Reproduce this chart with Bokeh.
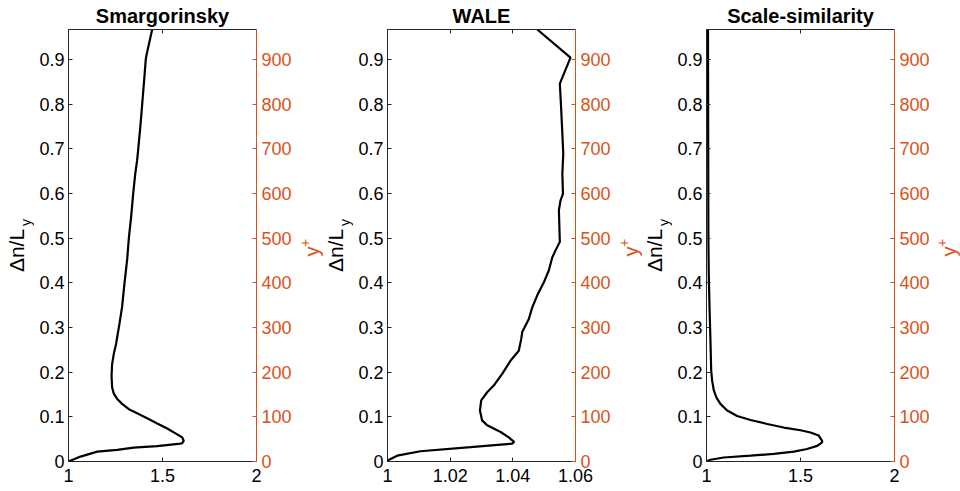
import numpy as np
from bokeh.plotting import figure
from bokeh.models import Range1d, LinearAxis, FixedTicker, Label
from bokeh.layouts import row
from bokeh.embed import file_html
from bokeh.resources import INLINE

titles = ["Smargorinsky", "WALE", "Scale-similarity"]

# Smagorinsky profile: x value vs wall distance dn/Ly
smag_x = [1.0, 1.064, 1.153, 1.259, 1.347, 1.471, 1.596, 1.605, 1.613, 1.605, 1.569, 1.525,
          1.472, 1.418, 1.365, 1.321, 1.285, 1.259, 1.241, 1.232, 1.229, 1.232, 1.241,
          1.253, 1.262, 1.271, 1.285, 1.298, 1.312, 1.321, 1.333, 1.344, 1.355, 1.365,
          1.371, 1.382, 1.392, 1.401, 1.411, 1.415, 1.445]
smag_y = [0.0, 0.011, 0.022, 0.026, 0.031, 0.0345, 0.040, 0.041, 0.046, 0.054, 0.063, 0.074,
          0.085, 0.097, 0.108, 0.117, 0.129, 0.140, 0.152, 0.166, 0.192, 0.218, 0.241,
          0.263, 0.286, 0.308, 0.346, 0.400, 0.452, 0.500, 0.547, 0.599, 0.644, 0.674,
          0.700, 0.749, 0.800, 0.846, 0.900, 0.910, 0.967]

# WALE profile
wale_x = [1.0, 1.0031, 1.0105, 1.0265, 1.0398, 1.0404, 1.0387, 1.0361, 1.0318, 1.0302, 1.0295,
          1.0299, 1.0318, 1.0339, 1.0366, 1.0393, 1.0419, 1.0427, 1.0430, 1.0451, 1.0462,
          1.0478, 1.0499, 1.0515, 1.0526, 1.0536, 1.0550, 1.0547, 1.0552, 1.0560, 1.0558,
          1.0561, 1.0558, 1.0554, 1.0550, 1.0584, 1.0478]
wale_y = [0.002, 0.013, 0.023, 0.032, 0.040, 0.044, 0.054, 0.066, 0.081, 0.092, 0.114,
          0.137, 0.155, 0.170, 0.196, 0.226, 0.248, 0.275, 0.290, 0.319, 0.345,
          0.372, 0.401, 0.428, 0.457, 0.472, 0.492, 0.562, 0.584, 0.599, 0.644,
          0.689, 0.734, 0.793, 0.846, 0.904, 0.967]

# Scale-similarity profile
ss_x = [1.0, 1.021, 1.092, 1.234, 1.358, 1.465, 1.535, 1.589, 1.615, 1.615, 1.597, 1.553,
        1.500, 1.411, 1.323, 1.234, 1.163, 1.110, 1.074, 1.053, 1.039, 1.030, 1.025,
        1.021, 1.016, 1.012, 1.010, 1.009, 1.008]
ss_y = [0.0, 0.004, 0.009, 0.013, 0.017, 0.022, 0.028, 0.035, 0.043, 0.046, 0.058, 0.065,
        0.070, 0.076, 0.084, 0.093, 0.102, 0.114, 0.129, 0.143, 0.159, 0.181, 0.203,
        0.271, 0.346, 0.420, 0.500, 0.700, 0.967]

series_x = [smag_x, wale_x, ss_x]
series_y = [smag_y, wale_y, ss_y]

x_ranges = [(1, 2), (1, 1.06), (1, 2)]
x_ticks = [[1, 1.5, 2], [1, 1.02, 1.04, 1.06], [1, 1.5, 2]]
x_tick_labels = [["1", "1.5", "2"], ["1", "1.02", "1.04", "1.06"], ["1", "1.5", "2"]]
y_ticks = [0, 0.1, 0.2, 0.3, 0.4, 0.5, 0.6, 0.7, 0.8, 0.9]
y_tick_labels = ["0", "0.1", "0.2", "0.3", "0.4", "0.5", "0.6", "0.7", "0.8", "0.9"]
yplus_ticks = [0, 100, 200, 300, 400, 500, 600, 700, 800, 900]
y_max = 0.967
yplus_max = 967

FONT = "Liberation Sans"
AX = "#262626"
ORANGE = "#D95319"
H = 491
TOP, BOTTOM = 29, 30          # page rows above / below the plotting frames
FRAME_H = H - TOP - BOTTOM


def style_axis(ax, color, tick_font="18px"):
    ax.axis_line_color = color
    ax.major_tick_line_color = color
    ax.major_tick_in = 4
    ax.major_tick_out = 0
    ax.minor_tick_line_color = None
    ax.major_label_text_color = color
    ax.major_label_text_font = FONT
    ax.major_label_text_font_size = tick_font


def make_panel(i):
    p = figure(frame_width=188, frame_height=FRAME_H,
               x_range=Range1d(*x_ranges[i]), y_range=Range1d(0, y_max),
               output_backend="svg", toolbar_location=None,
               x_axis_location=None, y_axis_location=None,
               min_border_left=34, min_border_right=40,
               min_border_top=TOP, min_border_bottom=BOTTOM)
    p.extra_y_ranges = {"yplus": Range1d(0, yplus_max)}
    p.grid.visible = False
    p.outline_line_color = None
    p.border_fill_color = "white"

    p.title.text = titles[i]
    p.title.align = "center"
    p.title.text_font = FONT
    p.title.text_font_size = "20px"
    p.title.text_font_style = "bold"
    p.title.text_color = "#000000"
    p.title.standoff = 5

    xb = LinearAxis(ticker=FixedTicker(ticks=x_ticks[i]))
    xb.major_label_overrides = dict(zip(x_ticks[i], x_tick_labels[i]))
    style_axis(xb, AX)
    xb.major_label_text_color = "#000000"
    xb.major_label_standoff = 7
    p.add_layout(xb, "below")

    xt = LinearAxis(ticker=FixedTicker(ticks=x_ticks[i]))
    style_axis(xt, AX, tick_font="1px")
    xt.major_label_text_color = None
    xt.major_label_standoff = 0
    p.add_layout(xt, "above")

    yl = LinearAxis(ticker=FixedTicker(ticks=y_ticks))
    yl.major_label_overrides = dict(zip(y_ticks, y_tick_labels))
    style_axis(yl, AX)
    yl.major_label_text_color = "#000000"
    yl.major_label_standoff = 4
    p.add_layout(yl, "left")

    yr = LinearAxis(ticker=FixedTicker(ticks=yplus_ticks), y_range_name="yplus")
    style_axis(yr, ORANGE)
    yr.major_label_standoff = 5
    p.add_layout(yr, "right")

    p.line(series_x[i], series_y[i], line_color="black", line_width=2.2)
    return p


def vlabel(x, y_page, text, size, color):
    """Vertical (bottom-to-top) text centred on page point (x, y_page)."""
    return Label(x=x, y=H - y_page, text=text, angle=np.pi / 2,
                 text_align="center", text_baseline="middle",
                 text_font=FONT, text_font_size=size, text_color=color)


def make_label_strip(x0, x1, left_label_x=None, right_label_x=None):
    """A strip between panels holding the axis titles; its frame lines up with
    the panels' frames, and its ranges are in page pixels (y counted upward)."""
    f = figure(frame_width=x1 - x0, frame_height=FRAME_H,
               x_range=Range1d(x0, x1), y_range=Range1d(BOTTOM, H - TOP),
               output_backend="svg", toolbar_location=None,
               x_axis_location=None, y_axis_location=None,
               min_border_left=0, min_border_right=0,
               min_border_top=TOP, min_border_bottom=BOTTOM)
    f.title = None
    f.grid.visible = False
    f.outline_line_color = None
    if right_label_x is not None:  # y+ of the panel on the left
        f.add_layout(vlabel(right_label_x, 251, "y", "20px", ORANGE))
        f.add_layout(vlabel(right_label_x - 6.5, 242.5, "+", "14px", ORANGE))
    if left_label_x is not None:  # Δn/L_y of the panel on the right
        f.add_layout(vlabel(left_label_x, 250, "Δn/L", "21px", "black"))
        f.add_layout(vlabel(left_label_x + 9, 222, "y", "14px", "black"))
    return f


p1, p2, p3 = make_panel(0), make_panel(1), make_panel(2)
s0 = make_label_strip(0, 34, left_label_x=16)
s1 = make_label_strip(296, 353, left_label_x=335, right_label_x=311)
s2 = make_label_strip(615, 672, left_label_x=654, right_label_x=630)
s3 = make_label_strip(934, 960, right_label_x=948)

layout = row(s0, p1, s1, p2, s2, p3, s3, spacing=0)
open("out.html", "w").write(file_html(layout, INLINE))
